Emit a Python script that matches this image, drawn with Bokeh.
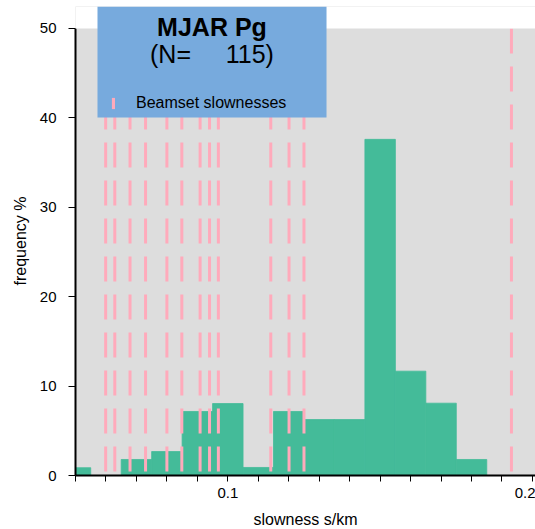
from bokeh.plotting import figure
from bokeh.models import Range1d, FixedTicker, Legend, LegendItem, BoxAnnotation, Label, ColumnDataSource
from bokeh.embed import file_html
from bokeh.resources import INLINE

# histogram bins (slowness s/km) and frequency %
bin_left = [0.045, 0.055, 0.065, 0.075, 0.085, 0.095, 0.105, 0.115, 0.125, 0.135, 0.145, 0.155, 0.165, 0.175]
bin_right = [0.055, 0.065, 0.075, 0.085, 0.095, 0.105, 0.115, 0.125, 0.135, 0.145, 0.155, 0.165, 0.175, 0.185]
freq = [0.87, 0.0, 1.79, 2.68, 7.16, 8.05, 0.90, 7.16, 6.26, 6.26, 37.6, 11.67, 8.09, 1.79]

# beamset slownesses
beam = [0.0599, 0.0629, 0.0679, 0.0730, 0.0800, 0.0849, 0.0909, 0.0940, 0.0969,
        0.1141, 0.1201, 0.1250, 0.1931]

x_major = [0.1, 0.2]
x_minor = [0.05, 0.06, 0.07, 0.08, 0.09, 0.11, 0.12, 0.13, 0.14, 0.15, 0.16, 0.17, 0.18, 0.19]
y_ticks = [0, 10, 20, 30, 40, 50]

title1 = "MJAR Pg"
title2 = "(N=\u00a0\u00a0\u00a0\u00a0\u00a0115)"
legend_label = "Beamset slownesses"

FONT = "Liberation Sans"
GREEN = "#44bb99"
PINK = "#ffaabb"
BLUE = "#77aadd"
GRAY = "#dddddd"

p = figure(frame_width=460, frame_height=469, output_backend="svg", toolbar_location=None,
           x_range=Range1d(0.05, 0.201), y_range=Range1d(0, 52.46),
           min_border_left=75, min_border_right=0, min_border_top=6, min_border_bottom=54)
p.background_fill_color = GRAY
p.border_fill_color = "white"
p.outline_line_color = None
p.xgrid.visible = False
p.ygrid.visible = False

hist = ColumnDataSource(dict(left=bin_left, right=bin_right, top=freq, bottom=[0] * len(freq)))
p.quad(left="left", right="right", top="top", bottom="bottom", source=hist,
       fill_color=GREEN, line_color=GREEN, line_width=0.8)

bs = ColumnDataSource(dict(x=beam, y0=[50] * len(beam), y1=[0] * len(beam)))
p.segment(x0="x", y0="y0", x1="x", y1="y1", source=bs, line_color=PINK,
          line_width=3, line_dash="25 13")

dummy = p.rect(x=[0.0], y=[-10.0], width=0.0001, height=0.1, fill_color=PINK, line_color=None)

# axes
xa = p.xaxis[0]
xa.ticker = FixedTicker(ticks=x_major, minor_ticks=x_minor)
xa.axis_label = "slowness s/km"
ya = p.yaxis[0]
ya.ticker = FixedTicker(ticks=y_ticks)
ya.axis_label = "frequency %"
ya.bounds = (0, 50)
for ax in (xa, ya):
    ax.axis_line_width = 2
    ax.axis_line_color = "black"
    ax.major_tick_in = 0
    ax.minor_tick_in = 0
    ax.major_tick_line_color = "black"
    ax.minor_tick_line_color = "black"
    ax.major_label_text_font = FONT
    ax.major_label_text_font_size = "15px"
    ax.major_label_text_color = "black"
    ax.axis_label_text_font = FONT
    ax.axis_label_text_font_size = "16px"
    ax.axis_label_text_font_style = "normal"
    ax.axis_label_text_color = "black"
xa.major_tick_out = 6
xa.minor_tick_out = 6
xa.major_label_standoff = 6
xa.axis_label_standoff = 10
ya.major_tick_out = 7
ya.minor_tick_out = 0
ya.major_label_standoff = 12
ya.axis_label_standoff = 8

# white band above the plotting area (outside the 0-50 panel)
band = BoxAnnotation(bottom=50, fill_color="white", fill_alpha=1.0, line_color=None)
p.add_layout(band)

# legend box
box = BoxAnnotation(left=0.05722, right=0.1324, bottom=40.04, top=52.46,
                    fill_color=BLUE, fill_alpha=1.0, line_color=None)
p.add_layout(box)

lab1 = Label(x=0.0948, y=50.2, text=title1, text_align="center", text_baseline="alphabetic",
             text_font=FONT, text_font_size="25px", text_font_style="bold", text_color="black")
lab2 = Label(x=0.0948, y=47.1, text=title2, text_align="center", text_baseline="alphabetic",
             text_font=FONT, text_font_size="25px", text_color="black")
p.add_layout(lab1)
p.add_layout(lab2)

legend = Legend(items=[LegendItem(label=legend_label, renderers=[dummy])],
                location=(36, 362), padding=0, margin=0, spacing=0,
                glyph_width=4, glyph_height=14, label_height=20, label_standoff=21,
                background_fill_alpha=0, border_line_color=None,
                label_text_font=FONT, label_text_font_size="16px", label_text_color="black")
p.add_layout(legend, "center")

open("out.html", "w").write(file_html(p, INLINE))
